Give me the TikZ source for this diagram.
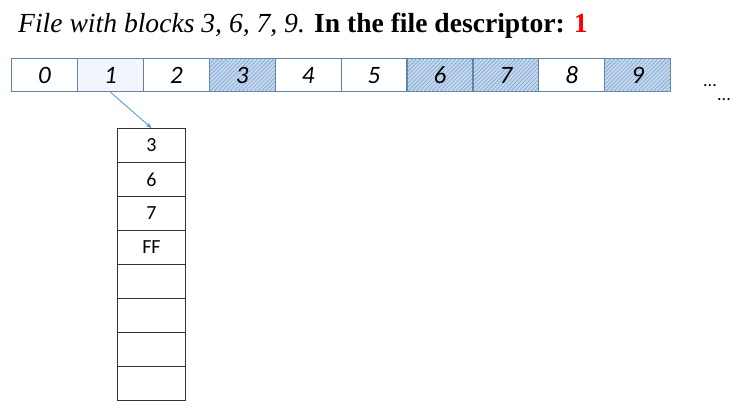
\documentclass[tikz,border=0pt]{standalone}
\usepackage{fontspec}
\setmainfont{Liberation Serif}
\newfontfamily\calib{Carlito}
\usetikzlibrary{patterns.meta,arrows.meta}
\definecolor{cellborder}{RGB}{96,128,166}
\definecolor{hatchfill}{RGB}{196,216,238}
\definecolor{hatchline}{RGB}{125,162,206}
\definecolor{dotfill}{RGB}{250,252,255}
\definecolor{dotcolor}{RGB}{160,188,222}
\definecolor{arrowblue}{RGB}{91,155,213}
\definecolor{titlered}{RGB}{255,0,0}
\begin{document}
\begin{tikzpicture}[x=1pt,y=-1pt,
  blk/.style={draw=cellborder,line width=1.2pt,minimum width=65.9pt,minimum height=33pt,inner sep=0pt,anchor=north west,font=\calib\itshape\fontsize{25}{25}\selectfont},
  used/.style={fill=hatchfill,postaction={pattern={Lines[angle=45,distance=2.8pt,line width=0.6pt]},pattern color=hatchline}},
  desc/.style={fill=dotfill,postaction={pattern={Dots[distance=2pt,radius=0.45pt]},pattern color=dotcolor}},
  fat/.style={draw=black!80,line width=1pt,minimum width=68pt,minimum height=34pt,inner sep=0pt,anchor=north west,font=\calib\fontsize{20}{20}\selectfont},
  ell/.style={anchor=base west,inner sep=0pt,font=\calib\fontsize{18}{18}\selectfont},
  link/.style={draw=arrowblue,line width=0.9pt,-{Stealth[length=6pt,width=5pt]}}]
\useasboundingbox (0,0) rectangle (747,416);
\node[anchor=base west,inner sep=0pt,font=\fontsize{27.6}{27.6}\selectfont] (title) at (18,32)
  {\textit{File with blocks 3, 6, 7, 9.} \textbf{In the file descriptor: \textcolor{titlered}{1}}};
\foreach \i in {0,...,9}{
  \ifnum\i=3 \def\st{used}\else\ifnum\i=6 \def\st{used}\else\ifnum\i=7 \def\st{used}\else\ifnum\i=9 \def\st{used}\else\ifnum\i=1 \def\st{desc}\else\def\st{}\fi\fi\fi\fi\fi
  \node[blk,\st] (c\i) at ({11+65.9*\i},58) {\i};
}
\node[ell] (dots1) at (703,86) {...};
\node[ell] (dots2) at (717,100) {...};
\foreach \t [count=\k] in {3,6,7,FF,{},{},{},{}}{
  \node[fat] (r\k) at (117,{128+34*(\k-1)}) {\t};
}
\draw[link] (c1.south) -- (r1.north);
\end{tikzpicture}
\end{document}
